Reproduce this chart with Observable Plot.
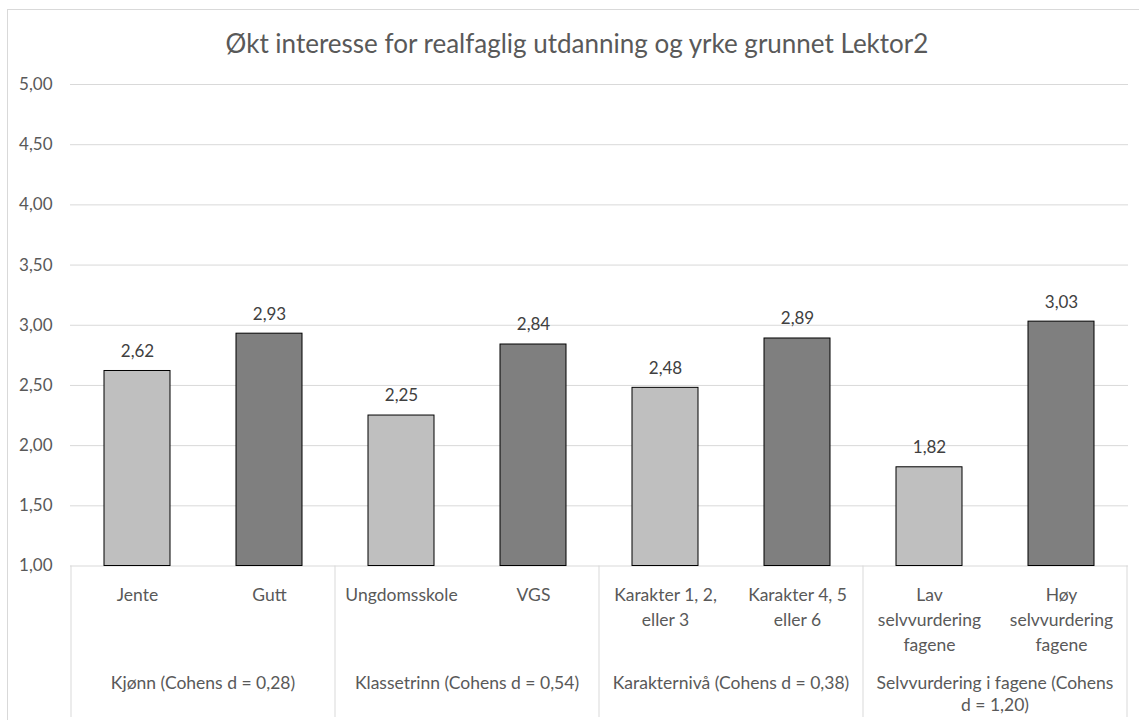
<!DOCTYPE html>
<html lang="no">
<head>
<meta charset="utf-8">
<script src="https://cdn.jsdelivr.net/npm/d3@7"></script>
<script src="https://cdn.jsdelivr.net/npm/@observablehq/plot@0.6"></script>
<style>
  body { margin: 0; background: #fff; font-family: Lato, "Open Sans", sans-serif; }
  #chart { position: relative; width: 1139px; height: 720px; overflow: hidden; }
  #frame { position: absolute; left: 7px; top: 9px; width: 1160px; height: 740px;
           border: 1px solid #D9D9D9; box-sizing: border-box; }
  #title { position: absolute; left: 0; width: 1154px; top: 30px; text-align: center;
           font-size: 26px; line-height: 26px; color: #595959; white-space: nowrap; }
  #plot svg { position: absolute; left: 0; top: 0; }
</style>
</head>
<body>
<div id="chart">
  <div id="frame"></div>
  <div id="title">Økt interesse for realfaglig utdanning og yrke grunnet Lektor2</div>
  <div id="plot"></div>
</div>
<script>
// Mean scores per subgroup, paired two by two within each comparison
const categories = [
  "Jente", "Gutt",
  "Ungdomsskole", "VGS",
  "Karakter 1, 2,\neller 3", "Karakter 4, 5\neller 6",
  "Lav\nselvvurdering\nfagene", "Høy\nselvvurdering\nfagene"
];
const values = [2.62, 2.93, 2.25, 2.84, 2.48, 2.89, 1.82, 3.03];
const groupOf = [0, 0, 1, 1, 2, 2, 3, 3];
const groups = [
  "Kjønn (Cohens d = 0,28)",
  "Klassetrinn (Cohens d = 0,54)",
  "Karakternivå (Cohens d = 0,38)",
  "Selvvurdering i fagene (Cohens\nd = 1,20)"
];
const yTicks = [1, 1.5, 2, 2.5, 3, 3.5, 4, 4.5, 5];
const shades = ["#BFBFBF", "#7F7F7F"]; // lower / higher subgroup

const fmt = v => v.toFixed(2).replace(".", ",");
const rows = categories.map((c, i) => ({cat: c, value: values[i], group: groupOf[i], shade: i % 2}));

// Group separators and group captions beneath the category labels
function groupAxis(index, scales, vals, dims) {
  const x = scales.x;
  const step = x(categories[1]) - x(categories[0]);
  const bw = typeof x.bandwidth === "function" ? x.bandwidth() : step / 2;
  const gap = (step - bw) / 2;
  const base = dims.height - dims.marginBottom;
  const g = d3.create("svg:g");
  const edges = new Set();
  groups.forEach((name, gi) => {
    const members = categories.filter((c, i) => groupOf[i] === gi);
    const x0 = x(members[0]) - gap;
    const x1 = x(members[members.length - 1]) + bw + gap;
    edges.add(x0); edges.add(x1);
    const t = g.append("text")
      .attr("text-anchor", "middle")
      .attr("fill", "#595959")
      .attr("font-size", 17.5)
      .attr("transform", `translate(${(x0 + x1) / 2},${base + 123.5})`);
    name.split("\n").forEach((line, li) => {
      t.append("tspan").attr("x", 0).attr("y", li * 22).text(line);
    });
  });
  for (const e of edges) {
    g.append("line")
      .attr("x1", e).attr("x2", e)
      .attr("y1", base).attr("y2", dims.height - 3)
      .attr("stroke", "#D9D9D9");
  }
  return g.node();
}

const plot = Plot.plot({
  width: 1139,
  height: 720,
  marginLeft: 70,
  marginRight: 11,
  marginTop: 84,
  marginBottom: 154.5,
  style: {fontFamily: "Lato, 'Open Sans', sans-serif", fontSize: "17px", background: "transparent", overflow: "visible"},
  x: {domain: categories, paddingInner: 0.5, paddingOuter: 0.25, axis: null},
  y: {domain: [1, 5], axis: null},
  marks: [
    Plot.ruleY(yTicks, {stroke: "#D9D9D9", strokeWidth: 1}),
    Plot.axisY({ticks: yTicks, tickSize: 0, tickPadding: 18, tickFormat: fmt, label: null, fill: "#595959", fontSize: 17}),
    Plot.barY(rows, {x: "cat", y1: 1, y2: "value", fill: d => shades[d.shade], stroke: "#000", strokeWidth: 1}),
    Plot.text(rows, {x: "cat", y: "value", text: d => fmt(d.value), dy: -19.5, fill: "#404040", fontSize: 17}),
    Plot.text(rows, {x: "cat", text: "cat", frameAnchor: "bottom", lineAnchor: "top", dy: 17, lineHeight: 1.43, fill: "#595959", fontSize: 17.5}),
    groupAxis
  ]
});
document.getElementById("plot").append(plot);
</script>
</body>
</html>
